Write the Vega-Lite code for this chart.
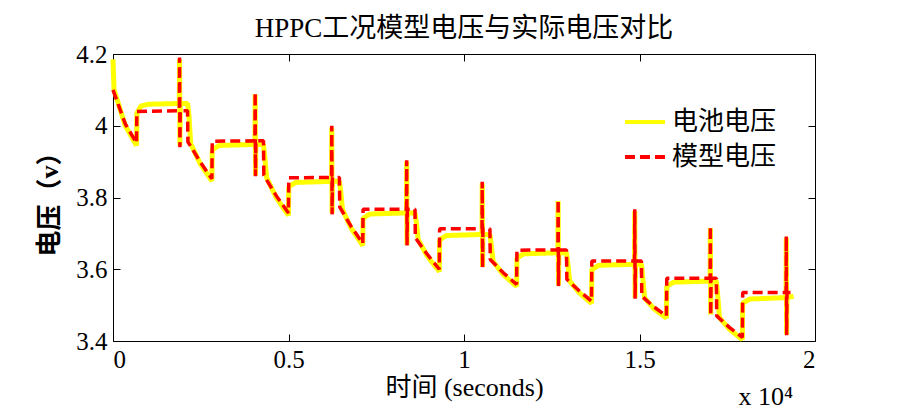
{
  "$schema": "https://vega.github.io/schema/vega-lite/v6.json",
  "width": 702,
  "height": 287,
  "autosize": {"type": "none"},
  "padding": {"left": 113, "top": 54, "right": 90, "bottom": 73},
  "background": "white",
  "title": {"text": "HPPC工况模型电压与实际电压对比", "font": "Liberation Serif, Noto Sans CJK SC", "fontSize": 27, "fontWeight": "normal", "color": "black", "offset": -1},
  "config": {
    "view": {"stroke": "black", "strokeWidth": 1},
    "axis": {"domain": false, "offset": -7, "tickSize": 7, "tickColor": "black", "labelColor": "black", "titleColor": "black", "labelFont": "Liberation Serif", "labelFontSize": 25, "titleFont": "Liberation Serif, Noto Sans CJK SC", "titleFontSize": 26, "titleFontWeight": "normal", "grid": false, "tickWidth": 1}
  },
  "datasets": {
    "volt": [
      {"s":"电池电压","t":0,"v":4.185},{"s":"电池电压","t":30,"v":4.100},{"s":"电池电压","t":350,"v":4.000},{"s":"电池电压","t":670,"v":3.945},{"s":"电池电压","t":680,"v":4.035},{"s":"电池电压","t":800,"v":4.055},{"s":"电池电压","t":1000,"v":4.060},{"s":"电池电压","t":1890,"v":4.062},{"s":"电池电压","t":1896,"v":4.185},{"s":"电池电压","t":1906,"v":3.945},{"s":"电池电压","t":1916,"v":4.062},{"s":"电池电压","t":2124,"v":4.062},{"s":"电池电压","t":2164,"v":4.028},{"s":"电池电压","t":2214,"v":3.950},{"s":"电池电压","t":2480,"v":3.895},{"s":"电池电压","t":2817,"v":3.846},{"s":"电池电压","t":2827,"v":3.933},{"s":"电池电压","t":3020,"v":3.945},{"s":"电池电压","t":4044,"v":3.948},{"s":"电池电压","t":4050,"v":4.088},{"s":"电池电压","t":4060,"v":3.862},{"s":"电池电压","t":4070,"v":3.948},{"s":"电池电压","t":4287,"v":3.948},{"s":"电池电压","t":4327,"v":3.910},{"s":"电池电压","t":4377,"v":3.855},{"s":"电池电压","t":4650,"v":3.800},{"s":"电池电压","t":4998,"v":3.750},{"s":"电池电压","t":5008,"v":3.830},{"s":"电池电压","t":5200,"v":3.842},{"s":"电池电压","t":6226,"v":3.845},{"s":"电池电压","t":6232,"v":3.995},{"s":"电池电压","t":6242,"v":3.756},{"s":"电池电压","t":6252,"v":3.845},{"s":"电池电压","t":6450,"v":3.845},{"s":"电池电压","t":6490,"v":3.815},{"s":"电池电压","t":6540,"v":3.766},{"s":"电池电压","t":6780,"v":3.715},{"s":"电池电压","t":7115,"v":3.666},{"s":"电池电压","t":7125,"v":3.742},{"s":"电池电压","t":7320,"v":3.754},{"s":"电池电压","t":8361,"v":3.757},{"s":"电池电压","t":8367,"v":3.900},{"s":"电池电压","t":8377,"v":3.668},{"s":"电池电压","t":8387,"v":3.757},{"s":"电池电压","t":8604,"v":3.757},{"s":"电池电压","t":8644,"v":3.730},{"s":"电池电压","t":8694,"v":3.683},{"s":"电池电压","t":8950,"v":3.637},{"s":"电池电压","t":9296,"v":3.594},{"s":"电池电压","t":9306,"v":3.682},{"s":"电池电压","t":9500,"v":3.694},{"s":"电池电压","t":10513,"v":3.697},{"s":"电池电压","t":10519,"v":3.840},{"s":"电池电压","t":10529,"v":3.606},{"s":"电池电压","t":10539,"v":3.697},{"s":"电池电压","t":10738,"v":3.697},{"s":"电池电压","t":10778,"v":3.667},{"s":"电池电压","t":10828,"v":3.622},{"s":"电池电压","t":11120,"v":3.585},{"s":"电池电压","t":11498,"v":3.552},{"s":"电池电压","t":11508,"v":3.631},{"s":"电池电压","t":11700,"v":3.643},{"s":"电池电压","t":12676,"v":3.646},{"s":"电池电压","t":12682,"v":3.790},{"s":"电池电压","t":12692,"v":3.556},{"s":"电池电压","t":12702,"v":3.646},{"s":"电池电压","t":12920,"v":3.646},{"s":"电池电压","t":12960,"v":3.615},{"s":"电池电压","t":13010,"v":3.567},{"s":"电池电压","t":13280,"v":3.535},{"s":"电池电压","t":13632,"v":3.505},{"s":"电池电压","t":13642,"v":3.599},{"s":"电池电压","t":13840,"v":3.611},{"s":"电池电压","t":14859,"v":3.614},{"s":"电池电压","t":14865,"v":3.762},{"s":"电池电压","t":14875,"v":3.520},{"s":"电池电压","t":14885,"v":3.614},{"s":"电池电压","t":15055,"v":3.614},{"s":"电池电压","t":15095,"v":3.575},{"s":"电池电压","t":15145,"v":3.520},{"s":"电池电压","t":15410,"v":3.490},{"s":"电池电压","t":15767,"v":3.464},{"s":"电池电压","t":15777,"v":3.552},{"s":"电池电压","t":15970,"v":3.564},{"s":"电池电压","t":17013,"v":3.567},{"s":"电池电压","t":17019,"v":3.715},{"s":"电池电压","t":17029,"v":3.474},{"s":"电池电压","t":17039,"v":3.567},{"s":"电池电压","t":17190,"v":3.567},{"s":"电池电压","t":17230,"v":3.525},{"s":"电池电压","t":17280,"v":3.465},{"s":"电池电压","t":17560,"v":3.433},{"s":"电池电压","t":17930,"v":3.404},{"s":"电池电压","t":17940,"v":3.505},{"s":"电池电压","t":18140,"v":3.517},{"s":"电池电压","t":19176,"v":3.521},{"s":"电池电压","t":19182,"v":3.688},{"s":"电池电压","t":19192,"v":3.418},{"s":"电池电压","t":19202,"v":3.521},{"s":"电池电压","t":19390,"v":3.525},
      {"s":"模型电压","t":0,"v":4.100},{"s":"模型电压","t":350,"v":4.005},{"s":"模型电压","t":670,"v":3.952},{"s":"模型电压","t":680,"v":4.040},{"s":"模型电压","t":1890,"v":4.042},{"s":"模型电压","t":1896,"v":4.190},{"s":"模型电压","t":1906,"v":3.940},{"s":"模型电压","t":1916,"v":4.042},{"s":"模型电压","t":2124,"v":4.042},{"s":"模型电压","t":2134,"v":3.955},{"s":"模型电压","t":2480,"v":3.900},{"s":"模型电压","t":2817,"v":3.852},{"s":"模型电压","t":2827,"v":3.957},{"s":"模型电压","t":4044,"v":3.958},{"s":"模型电压","t":4050,"v":4.093},{"s":"模型电压","t":4060,"v":3.859},{"s":"模型电压","t":4070,"v":3.958},{"s":"模型电压","t":4287,"v":3.958},{"s":"模型电压","t":4297,"v":3.862},{"s":"模型电压","t":4650,"v":3.805},{"s":"模型电压","t":4998,"v":3.757},{"s":"模型电压","t":5008,"v":3.855},{"s":"模型电压","t":6226,"v":3.856},{"s":"模型电压","t":6232,"v":4.000},{"s":"模型电压","t":6242,"v":3.753},{"s":"模型电压","t":6252,"v":3.856},{"s":"模型电压","t":6450,"v":3.856},{"s":"模型电压","t":6460,"v":3.773},{"s":"模型电压","t":6780,"v":3.720},{"s":"模型电压","t":7115,"v":3.672},{"s":"模型电压","t":7125,"v":3.767},{"s":"模型电压","t":8361,"v":3.767},{"s":"模型电压","t":8367,"v":3.904},{"s":"模型电压","t":8377,"v":3.666},{"s":"模型电压","t":8387,"v":3.767},{"s":"模型电压","t":8604,"v":3.767},{"s":"模型电压","t":8614,"v":3.688},{"s":"模型电压","t":8950,"v":3.642},{"s":"模型电压","t":9296,"v":3.600},{"s":"模型电压","t":9306,"v":3.713},{"s":"模型电压","t":10513,"v":3.713},{"s":"模型电压","t":10519,"v":3.844},{"s":"模型电压","t":10529,"v":3.604},{"s":"模型电压","t":10539,"v":3.713},{"s":"模型电压","t":10738,"v":3.713},{"s":"模型电压","t":10748,"v":3.627},{"s":"模型电压","t":11120,"v":3.590},{"s":"模型电压","t":11498,"v":3.558},{"s":"模型电压","t":11508,"v":3.653},{"s":"模型电压","t":12676,"v":3.654},{"s":"模型电压","t":12682,"v":3.794},{"s":"模型电压","t":12692,"v":3.553},{"s":"模型电压","t":12702,"v":3.654},{"s":"模型电压","t":12920,"v":3.654},{"s":"模型电压","t":12930,"v":3.572},{"s":"模型电压","t":13280,"v":3.540},{"s":"模型电压","t":13632,"v":3.511},{"s":"模型电压","t":13642,"v":3.623},{"s":"模型电压","t":14859,"v":3.623},{"s":"模型电压","t":14865,"v":3.767},{"s":"模型电压","t":14875,"v":3.518},{"s":"模型电压","t":14885,"v":3.623},{"s":"模型电压","t":15055,"v":3.623},{"s":"模型电压","t":15065,"v":3.525},{"s":"模型电压","t":15410,"v":3.495},{"s":"模型电压","t":15767,"v":3.470},{"s":"模型电压","t":15777,"v":3.575},{"s":"模型电压","t":17013,"v":3.575},{"s":"模型电压","t":17019,"v":3.720},{"s":"模型电压","t":17029,"v":3.472},{"s":"模型电压","t":17039,"v":3.575},{"s":"模型电压","t":17190,"v":3.575},{"s":"模型电压","t":17200,"v":3.470},{"s":"模型电压","t":17560,"v":3.438},{"s":"模型电压","t":17930,"v":3.410},{"s":"模型电压","t":17940,"v":3.535},{"s":"模型电压","t":19176,"v":3.535},{"s":"模型电压","t":19182,"v":3.692},{"s":"模型电压","t":19192,"v":3.416},{"s":"模型电压","t":19202,"v":3.535},{"s":"模型电压","t":19390,"v":3.535}
    ],
    "note": [{"t": 20000, "v": 3.4, "label": "x 10⁴"}]
  },
  "layer": [
    {
      "data": {"name": "volt"},
      "transform": [{"filter": "datum.s === '电池电压'"}],
      "mark": {"type": "line", "strokeWidth": 5, "strokeJoin": "bevel"},
      "encoding": {
        "x": {"field": "t", "type": "quantitative", "scale": {"domain": [0, 20000], "nice": false}, "axis": {"orient": "bottom", "values": [0, 5000, 10000, 15000, 20000], "labelExpr": "datum.value / 10000", "labelPadding": 6, "title": "时间 (seconds)", "titlePadding": 2}},
        "y": {"field": "v", "type": "quantitative", "scale": {"domain": [3.4, 4.2], "nice": false, "zero": false}, "axis": {"orient": "left", "values": [3.4, 3.6, 3.8, 4.0, 4.2], "labelExpr": "datum.value == 4 ? '4' : format(datum.value, '.1f')", "labelPadding": 6, "title": "电压（v）", "titlePadding": 13, "titleFontWeight": "bold"}},
        "color": {"field": "s", "type": "nominal", "scale": {"domain": ["电池电压", "模型电压"], "range": ["#FFFF00", "#FF0000"]}, "legend": {"title": null, "orient": "none", "legendX": 510, "legendY": 46, "symbolType": "stroke", "symbolSize": 1600, "symbolStrokeWidth": 4, "labelFont": "Liberation Serif, Noto Sans CJK SC", "labelFontSize": 26, "labelColor": "black", "labelOffset": 5, "rowPadding": -14}},
        "strokeDash": {"field": "s", "type": "nominal", "scale": {"domain": ["电池电压", "模型电压"], "range": [[1, 0], [10, 5]]}, "legend": {"title": null, "orient": "none", "legendX": 510, "legendY": 46, "symbolType": "stroke", "symbolSize": 1600, "symbolStrokeWidth": 4, "labelFont": "Liberation Serif, Noto Sans CJK SC", "labelFontSize": 26, "labelColor": "black", "labelOffset": 5, "rowPadding": -14}}
      }
    },
    {
      "data": {"name": "volt"},
      "transform": [{"filter": "datum.s === '模型电压'"}],
      "mark": {"type": "line", "strokeWidth": 3.5, "strokeJoin": "bevel"},
      "encoding": {
        "x": {"field": "t", "type": "quantitative", "axis": {"orient": "top", "values": [0, 5000, 10000, 15000, 20000], "labels": false, "title": null}},
        "y": {"field": "v", "type": "quantitative", "axis": {"orient": "right", "values": [3.4, 3.6, 3.8, 4.0, 4.2], "labels": false, "title": null}},
        "color": {"field": "s", "type": "nominal"},
        "strokeDash": {"field": "s", "type": "nominal"}
      }
    },
    {
      "data": {"name": "note"},
      "mark": {"type": "text", "align": "right", "baseline": "alphabetic", "dy": 64, "dx": -22, "font": "Liberation Serif", "fontSize": 26, "color": "black"},
      "encoding": {
        "x": {"field": "t", "type": "quantitative", "axis": null},
        "y": {"field": "v", "type": "quantitative", "axis": null},
        "text": {"field": "label"}
      }
    }
  ],
  "resolve": {"axis": {"x": "independent", "y": "independent"}}
}
